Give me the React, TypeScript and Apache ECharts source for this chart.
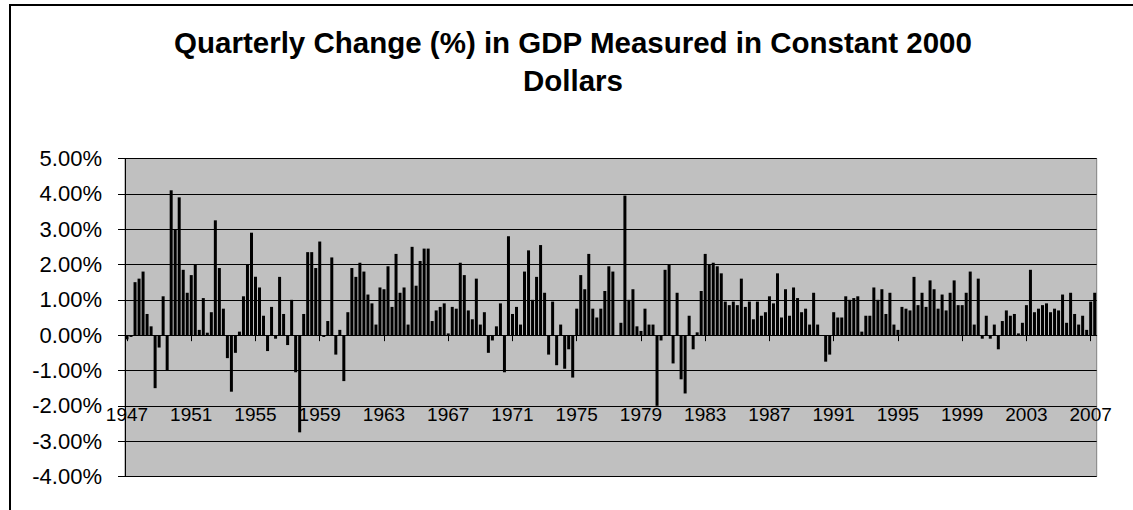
import React, { useEffect, useRef } from "react";
import * as echarts from "echarts";

const FONT = "'Liberation Sans', Arial, Helvetica, sans-serif";

const TITLE_LINE_1 = "Quarterly Change (%) in GDP Measured in Constant 2000";
const TITLE_LINE_2 = "Dollars";

// First quarter shown: 1947 Q2; last: 2007 Q3
const START_YEAR = 1947;
const START_QUARTER = 2;

// Quarterly % change
const gdp1940s = [-0.12, -0.05, 1.5, 1.6, 1.8, 0.6, 0.25, -1.5, -0.35, 1.1, -1.0];
const gdp1950s = [
  4.1, 3.0, 3.9, 1.85, 1.2, 1.7, 2.0, 0.15, 1.05, 0.07, 0.65, 3.25, 1.9, 0.75, -0.65, -1.6,
  -0.5, 0.1, 1.1, 2.0, 2.9, 1.65, 1.35, 0.55, -0.45, 0.8, -0.1, 1.65, 0.6, -0.28, 1.0, -1.05,
  -2.75, 0.6, 2.35, 2.35, 1.9, 2.65, -0.05, 0.4,
];
const gdp1960s = [
  2.2, -0.55, 0.15, -1.3, 0.65, 1.9, 1.65, 2.05, 1.8, 1.15, 0.9, 0.3, 1.35, 1.3, 1.95, 0.8,
  2.3, 1.2, 1.35, 0.3, 2.5, 1.4, 2.1, 2.45, 2.45, 0.4, 0.7, 0.8, 0.9, 0.05, 0.8, 0.75,
  2.05, 1.7, 0.7, 0.45, 1.6, 0.3, 0.65, -0.5,
];
const gdp1970s = [
  -0.15, 0.25, 0.9, -1.05, 2.8, 0.6, 0.8, 0.3, 1.8, 2.4, 1.0, 1.65, 2.55, 1.2, -0.55, 0.95,
  -0.85, 0.3, -0.95, -0.4, -1.2, 0.75, 1.7, 1.3, 2.3, 0.75, 0.5, 0.75, 1.25, 1.95, 1.8, 0.0,
  0.35, 3.95, 1.0, 1.3, 0.25, 0.12, 0.75, 0.3,
];
const gdp1980s = [
  0.3, -2.0, -0.15, 1.85, 2.0, -0.8, 1.2, -1.25, -1.65, 0.55, -0.4, 0.08, 1.25, 2.3, 2.0, 2.05,
  1.95, 1.75, 0.95, 0.85, 0.95, 0.85, 1.6, 0.8, 0.95, 0.45, 0.95, 0.55, 0.65, 1.1, 0.9, 1.75,
  0.5, 1.3, 0.55, 1.35, 1.05, 0.65, 0.75, 0.3,
];
const gdp1990s = [
  1.2, 0.3, 0.0, -0.75, -0.55, 0.65, 0.5, 0.5, 1.1, 1.0, 1.05, 1.1, 0.1, 0.55, 0.55, 1.35,
  1.0, 1.3, 0.6, 1.2, 0.3, 0.15, 0.8, 0.75, 0.7, 1.65, 0.85, 1.2, 0.8, 1.55, 1.3, 0.75,
  1.15, 0.7, 1.2, 1.55, 0.85, 0.85, 1.2, 1.8,
];
const gdp2000s = [
  0.3, 1.6, -0.1, 0.55, -0.1, 0.3, -0.4, 0.4, 0.7, 0.55, 0.6, 0.05, 0.35, 0.85, 1.85, 0.65,
  0.75, 0.85, 0.9, 0.65, 0.75, 0.7, 1.15, 0.35, 1.2, 0.6, 0.3, 0.55, 0.15, 0.95, 1.2,
];

const values = [
  ...gdp1940s,
  ...gdp1950s,
  ...gdp1960s,
  ...gdp1970s,
  ...gdp1980s,
  ...gdp1990s,
  ...gdp2000s,
];

// Category labels "YYYY Qn"
const quarters: string[] = values.map((_, i) => {
  const q0 = START_QUARTER - 1 + i;
  return `${START_YEAR + Math.floor(q0 / 4)} Q${(q0 % 4) + 1}`;
});

const Y_MIN = -4;
const Y_MAX = 5;
const Y_STEP = 1;

export default function App() {
  const ref = useRef<HTMLDivElement>(null);

  useEffect(() => {
    if (!ref.current) return;
    const chart = echarts.init(ref.current, undefined, { renderer: "svg" });
    chart.setOption({
      animation: false,
      backgroundColor: "#ffffff",
      textStyle: { fontFamily: FONT },
      grid: {
        left: 125,
        right: 36.3,
        top: 158.5,
        bottom: 33.5,
        show: true,
        backgroundColor: "#c0c0c0",
        borderColor: "#808080",
        borderWidth: 1,
        containLabel: false,
        outerBoundsMode: "none",
      },
      xAxis: {
        type: "category",
        data: quarters,
        boundaryGap: true,
        axisLine: { show: true, onZero: true, lineStyle: { color: "#000", width: 1 } },
        axisTick: {
          show: true,
          alignWithLabel: true,
          interval: 15,
          length: 6,
          lineStyle: { color: "#000", width: 1 },
        },
        axisLabel: {
          interval: 15,
          margin: -72,
          fontSize: 19,
          color: "#000",
          fontFamily: FONT,
          formatter: (v: string) => v.slice(0, 4),
        },
        splitLine: { show: false },
      },
      yAxis: {
        type: "value",
        min: Y_MIN,
        max: Y_MAX,
        interval: Y_STEP,
        axisLine: { show: true, lineStyle: { color: "#000", width: 1 } },
        axisTick: { show: true, length: 7, lineStyle: { color: "#000", width: 1 } },
        axisLabel: {
          margin: 23,
          fontSize: 22,
          color: "#000",
          fontFamily: FONT,
          formatter: (v: number) => v.toFixed(2) + "%",
        },
        splitLine: { show: true, lineStyle: { color: "#000", width: 1 } },
      },
      series: [
        {
          type: "bar",
          data: values,
          barWidth: 3,
          itemStyle: { color: "#000" },
          emphasis: { disabled: true },
        },
      ],
      graphic: [
        {
          type: "line",
          shape: { x1: 9, y1: 5, x2: 1140, y2: 5 },
          style: { stroke: "#000", lineWidth: 2 },
        },
        {
          type: "line",
          shape: { x1: 10, y1: 4, x2: 10, y2: 520 },
          style: { stroke: "#000", lineWidth: 2 },
        },
        {
          type: "text",
          x: 573,
          y: 42,
          style: {
            text: TITLE_LINE_1,
            fill: "#000",
            fontSize: 29.5,
            fontWeight: "bold",
            fontFamily: FONT,
            align: "center",
            verticalAlign: "middle",
            textAlign: "center",
            textVerticalAlign: "middle",
          },
        },
        {
          type: "text",
          x: 573,
          y: 80,
          style: {
            text: TITLE_LINE_2,
            fill: "#000",
            fontSize: 29.5,
            fontWeight: "bold",
            fontFamily: FONT,
            align: "center",
            verticalAlign: "middle",
            textAlign: "center",
            textVerticalAlign: "middle",
          },
        },
      ],
    });
    return () => chart.dispose();
  }, []);

  return (
    <div
      ref={ref}
      style={{ position: "fixed", left: 0, top: 0, width: 1133, height: 510 }}
    />
  );
}
